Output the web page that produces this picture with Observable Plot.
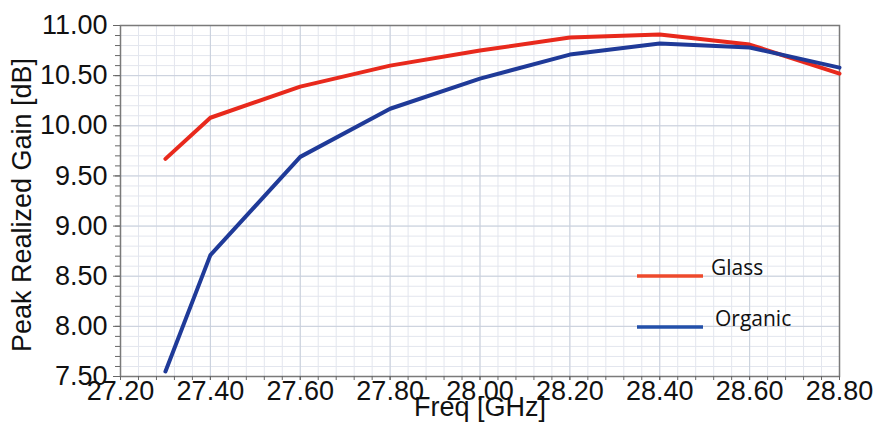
<!DOCTYPE html>
<html>
<head>
<meta charset="utf-8">
<script src="https://cdn.jsdelivr.net/npm/d3@7"></script>
<script src="https://cdn.jsdelivr.net/npm/@observablehq/plot@0.6"></script>
<style>
  html, body { margin: 0; padding: 0; background: #fff; }
  #chart { width: 874px; height: 423px; overflow: hidden; }
</style>
</head>
<body>
<div id="chart"></div>
<script>
// Data
const freq = [27.3, 27.4, 27.6, 27.8, 28.0, 28.2, 28.4, 28.6, 28.8];
const glass = [9.67, 10.08, 10.39, 10.60, 10.75, 10.88, 10.91, 10.81, 10.52];
const organic = [7.55, 8.71, 9.69, 10.17, 10.47, 10.71, 10.82, 10.78, 10.58];
const seriesNames = ["Glass", "Organic"];
const xTicks = [27.2, 27.4, 27.6, 27.8, 28.0, 28.2, 28.4, 28.6, 28.8];
const yTicks = [7.5, 8.0, 8.5, 9.0, 9.5, 10.0, 10.5, 11.0];
const xLabel = "Freq [GHz]";
const yLabel = "Peak Realized Gain [dB]";

const colors = {Glass: "#e8291c", Organic: "#1f3a98"};
const legendColors = {Glass: "#ee4a2c", Organic: "#2350aa"};

const rows = [];
freq.forEach((f, i) => rows.push({series: "Glass", freq: f, gain: glass[i]}));
freq.forEach((f, i) => rows.push({series: "Organic", freq: f, gain: organic[i]}));

const xMinor = d3.range(0, 41).map(i => +(27.2 + i * 0.04).toFixed(2));
const yMinor = d3.range(0, 36).map(i => +(7.5 + i * 0.1).toFixed(2));

const minorColor = "#e3e6ee";
const majorColor = "#c9d0dc";

const chart = Plot.plot({
  width: 874,
  height: 423,
  marginLeft: 120,
  marginRight: 35,
  marginTop: 25,
  marginBottom: 47,
  style: {fontFamily: "'Liberation Sans', Arial, sans-serif", fontSize: "27px", color: "#111", background: "#fff"},
  x: {domain: [27.2, 28.8]},
  y: {domain: [7.5, 11.0]},
  marks: [
    Plot.gridX(xMinor, {stroke: minorColor, strokeOpacity: 1}),
    Plot.gridY(yMinor, {stroke: minorColor, strokeOpacity: 1}),
    Plot.gridX(xTicks, {stroke: majorColor, strokeOpacity: 1}),
    Plot.gridY(yTicks, {stroke: majorColor, strokeOpacity: 1}),
    Plot.frame({stroke: "#7a7a7a", strokeWidth: 1.5}),
    Plot.axisY(yMinor, {tickSize: 5, tickFormat: () => "", label: null, stroke: "#666"}),
    Plot.axisY(yTicks, {tickSize: 7, tickPadding: 6, tickFormat: d3.format(".2f"), label: null, fontSize: 27, stroke: "#666"}),
    Plot.axisX(xMinor, {tickSize: 4, tickFormat: () => "", label: null, stroke: "#666"}),
    Plot.axisX(xTicks, {tickSize: 4, tickPadding: 0, tickFormat: d3.format(".2f"), label: null, fontSize: 27, stroke: "#666"}),
    Plot.line(rows, {x: "freq", y: "gain", z: "series", stroke: d => colors[d.series], strokeWidth: 4, strokeLinejoin: "round"}),
    Plot.text([yLabel], {text: d => d, frameAnchor: "left", textAnchor: "middle", dx: -98, dy: 4, rotate: -90, fontSize: 27}),
    Plot.text([xLabel], {text: d => d, frameAnchor: "bottom", dy: 39, lineAnchor: "bottom", fontSize: 27})
  ]
});

document.getElementById("chart").appendChild(chart);

// In-plot legend
const svg = d3.select(chart.tagName.toLowerCase() === "svg" ? chart : chart.querySelector("svg"));
const legend = svg.append("g")
  .attr("font-family", "'Open Sans', sans-serif")
  .attr("font-size", 21)
  .attr("text-anchor", "start")
  .attr("fill", "#111");
const legendRows = [
  {name: seriesNames[0], ly: 276, tx: 711, ty: 275},
  {name: seriesNames[1], ly: 327, tx: 715, ty: 326}
];
legendRows.forEach(r => {
  legend.append("line").attr("x1", 637).attr("x2", 703).attr("y1", r.ly).attr("y2", r.ly)
    .attr("stroke", legendColors[r.name]).attr("stroke-width", 3.5);
  legend.append("text").attr("x", r.tx).attr("y", r.ty).text(r.name);
});
</script>
</body>
</html>
